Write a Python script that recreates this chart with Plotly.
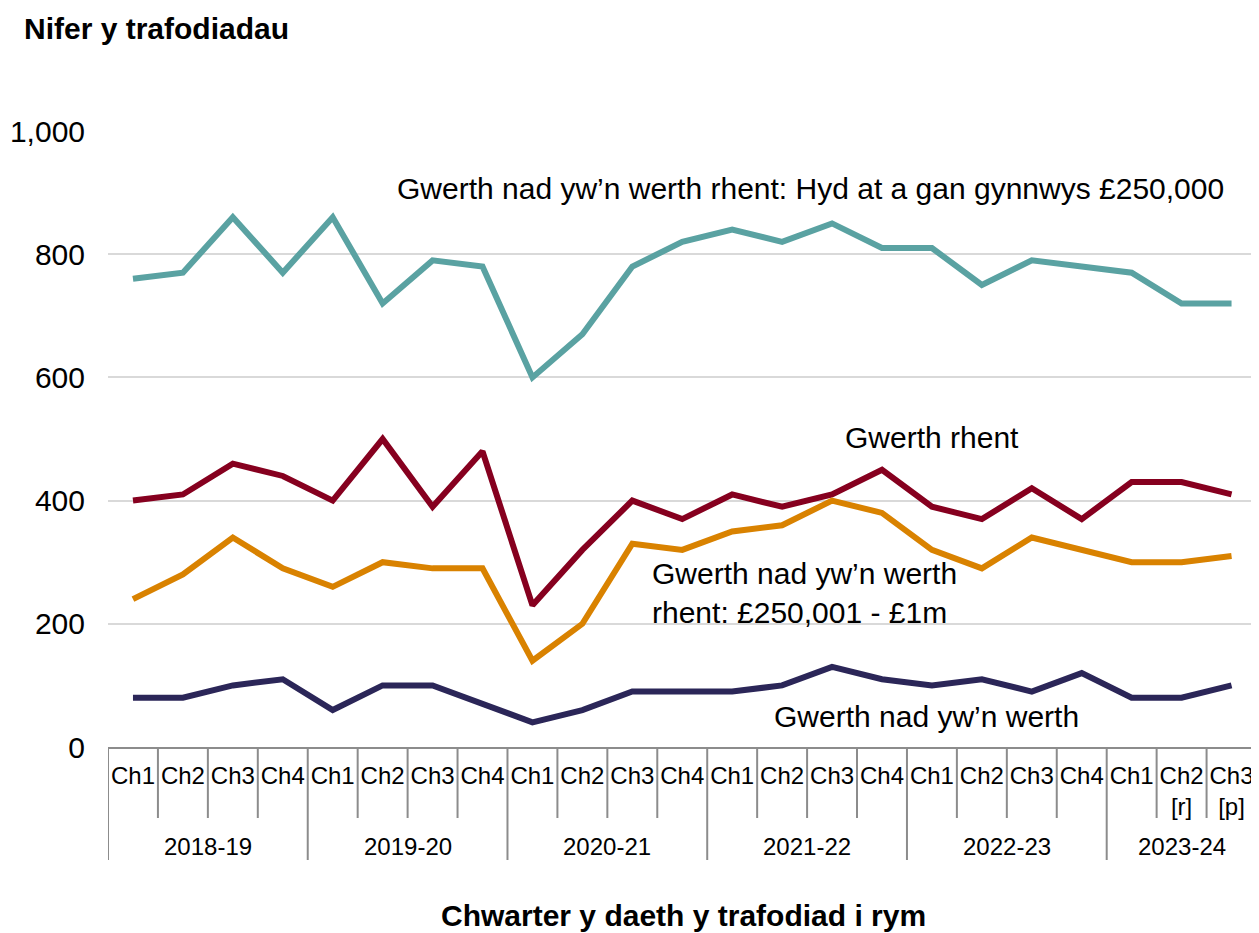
import plotly.graph_objects as go

# Quarter labels (Welsh financial years)
years = ['2018-19', '2019-20', '2020-21', '2021-22', '2022-23', '2023-24']
quarters = ['Ch1', 'Ch2', 'Ch3', 'Ch4'] * 5 + ['Ch1', 'Ch2<br>[r]', 'Ch3<br>[p]']
year_sizes = [4, 4, 4, 4, 4, 3]

upto_250k = [760, 770, 860, 770, 860, 720, 790, 780, 600, 670, 780, 820,
             840, 820, 850, 810, 810, 750, 790, 780, 770, 720, 720]
rent_value = [400, 410, 460, 440, 400, 500, 390, 480, 230, 320, 400, 370,
              410, 390, 410, 450, 390, 370, 420, 370, 430, 430, 410]
from_250k_to_1m = [240, 280, 340, 290, 260, 300, 290, 290, 140, 200, 330, 320,
                   350, 360, 400, 380, 320, 290, 340, 320, 300, 300, 310]
non_rent_other = [80, 80, 100, 110, 60, 100, 100, 70, 40, 60, 90, 90,
                  90, 100, 130, 110, 100, 110, 90, 120, 80, 80, 100]

FONT = 'Liberation Sans, Arial, sans-serif'
GRID = '#d9d9d9'
SEP = '#8c8c8c'

# plot area geometry (page pixels); the page body adds an 8px margin
PLOT_W, PLOT_H = 1151, 616


def px_y(dy):
    """Vertical offset in pixels (downwards from the x axis) -> paper units."""
    return -dy / PLOT_H


xs = list(range(len(quarters)))

series = [
    (upto_250k, '#5aa2a2'),
    (rent_value, '#86001f'),
    (from_250k_to_1m, '#d98200'),
    (non_rent_other, '#2b2658'),
]

fig = go.Figure()
for vals, colour in series:
    fig.add_trace(go.Scatter(
        x=xs, y=vals, mode='lines',
        line=dict(color=colour, width=6),
        showlegend=False, hoverinfo='skip',
    ))

# ── direct labels on the lines ──────────────────────────────────────────────
labels = [
    ('Gwerth nad yw’n werth rhent: Hyd at a gan gynnwys £250,000', 5.25, 907, 'left'),
    ('Gwerth rhent', 16.0, 503, 'center'),
    ('Gwerth nad yw’n werth<br>rhent: £250,001 - £1m', 10.36, 250, 'left'),
    ('Gwerth nad yw’n werth', 15.9, 49, 'center'),
]
for text, x, y, anchor in labels:
    fig.add_annotation(x=x, y=y, xref='x', yref='y', text=text, showarrow=False,
                       xanchor=anchor, yanchor='middle', align='left',
                       font=dict(size=30, color='#000000', family=FONT))

# ── year labels and separators below the axis ───────────────────────────────
start = 0
boundaries = []
for yr, n in zip(years, year_sizes):
    boundaries.append(start)
    fig.add_annotation(x=start + (n - 1) / 2, y=px_y(99), xref='x', yref='paper',
                       text=yr, showarrow=False, xanchor='center', yanchor='middle',
                       font=dict(size=24, color='#000000', family=FONT))
    start += n

for k in range(len(quarters)):
    depth = px_y(113) if k in boundaries else px_y(71)
    fig.add_shape(type='line', xref='x', yref='paper', x0=k - 0.5, x1=k - 0.5,
                  y0=0, y1=depth, line=dict(color=SEP, width=2))

# ── axis titles ─────────────────────────────────────────────────────────────
fig.add_annotation(x=-86 / PLOT_W, y=1 + 103 / PLOT_H, xref='paper', yref='paper',
                   text='<b>Nifer y trafodiadau</b>', showarrow=False,
                   xanchor='left', yanchor='middle',
                   font=dict(size=30, color='#000000', family=FONT))
fig.add_annotation(x=(683 - 108) / PLOT_W, y=px_y(168), xref='paper', yref='paper',
                   text='<b>Chwarter y daeth y trafodiad i rym</b>', showarrow=False,
                   xanchor='center', yanchor='middle',
                   font=dict(size=30, color='#000000', family=FONT))

fig.update_layout(
    width=1251, height=925,
    margin=dict(l=100, r=0, t=123, b=186),
    paper_bgcolor='white', plot_bgcolor='white',
    font=dict(family=FONT, color='#000000'),
    xaxis=dict(
        range=[-0.5, 22.55], tickmode='array', tickvals=xs, ticktext=quarters,
        showgrid=False, zeroline=False, ticks='',
        showline=True, linecolor=SEP, linewidth=2,
        tickfont=dict(size=24, family=FONT, color='#000000'),
        ticklabelstandoff=6, ticklabeloverflow='allow',
    ),
    yaxis=dict(
        range=[0, 1000], tickvals=[0, 200, 400, 600, 800, 1000], tickformat=',',
        showgrid=True, gridcolor=GRID, gridwidth=2, zeroline=False, ticks='',
        showline=False,
        tickfont=dict(size=30, family=FONT, color='#000000'),
        ticklabelstandoff=22,
    ),
)

fig.write_html('out.html')
